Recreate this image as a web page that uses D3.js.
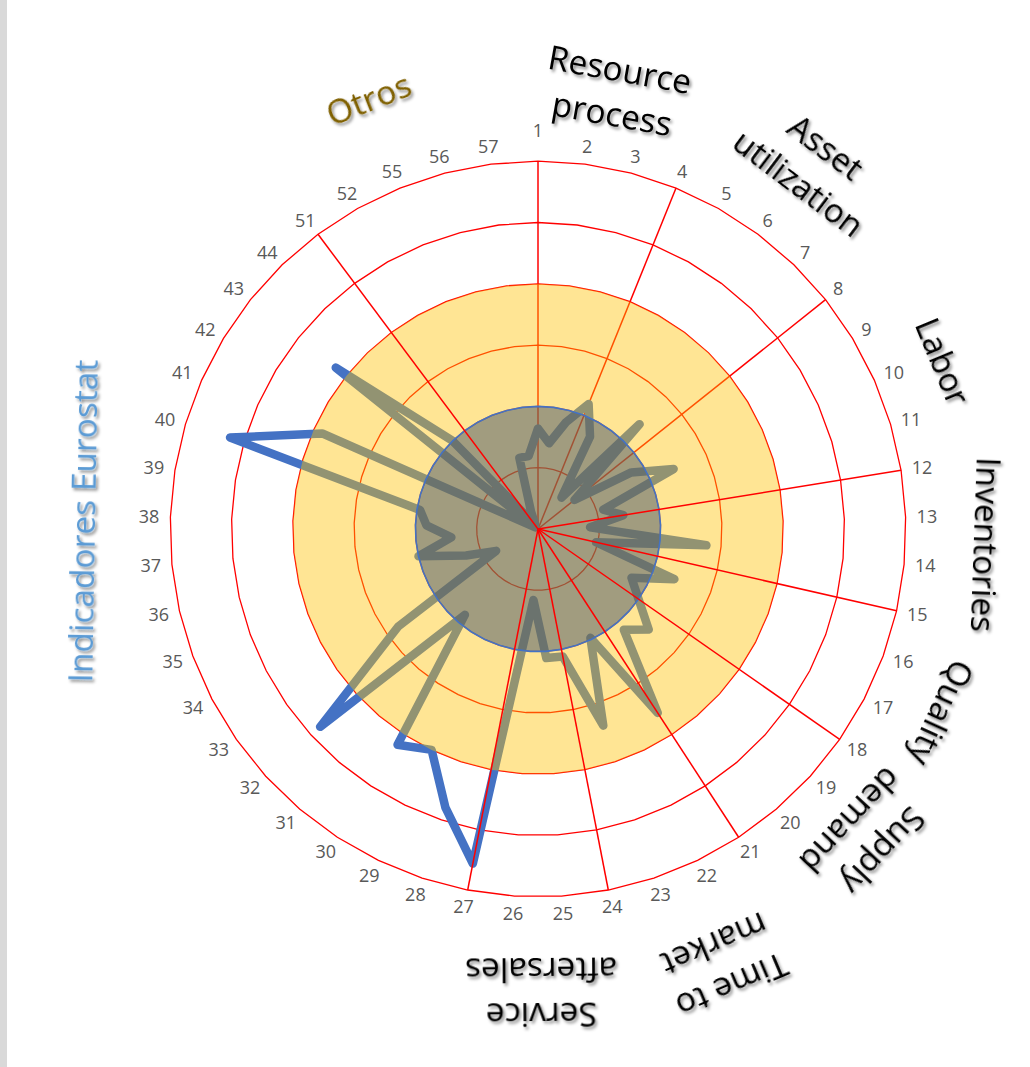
<!DOCTYPE html>
<html>
<head>
<meta charset="utf-8">
<script src="https://cdn.jsdelivr.net/npm/d3@7"></script>
<style>
  body { margin: 0; background: #fff; }
  svg { display: block; }
</style>
</head>
<body>
<svg id="chart" width="1030" height="1067"></svg>
<script>
// categories (axis labels) around the radar
const categories = ["1","2","3","4","5","6","7","8","9","10","11","12","13","14","15","16","17",
  "18","19","20","21","22","23","24","25","26","27","28","29","30","31","32","33","34","35",
  "36","37","38","39","40","41","42","43","44","51","52","55","56","57"];

// main series (blue line), one value per category
const scores = [1.64, 1.41, 1.8, 2.2, 1.73, 0.64, 2.38, 0.76, 1.78, 2.42, 1.11, 1.41, 0.85,
  2.76, 0.97, 2.37, 1.72, 2.0, 2.44, 2.16, 3.58, 1.97, 3.38, 2.12, 2.11, 1.16, 5.56, 4.79,
  4.0, 4.2, 1.84, 4.8, 2.78, 0.77, 1.25, 2.0, 1.42, 1.82, 1.95, 5.24, 3.85, 0.05, 4.22, 2.0,
  0.1, 0.1, 0.3, 1.2, 1.2];

// filled reference bands
const targetLevel = 4;
const baseLevel = 2;

// grid rings
const ringTicks = [1, 2, 3, 4, 5, 6];

// group separators (spokes), some drawn below the fills, the rest on top
const spokesUnder = ["1", "4", "8"];
const spokesOver = ["12", "15", "18", "21", "24", "27", "51"];

// group titles
const groupNames = [["Resource", "process"], ["Asset", "utilization"], ["Labor"], ["Inventories"],
  ["Quality"], ["Supply", "demand"], ["Time to", "market"], ["Service", "aftersales"],
  ["Indicadores Eurostat"], ["Otros"]];

// where the group titles sit (angle in degrees, distance from centre)
const groupLayout = [
  { a: 10.1, r: 444, color: "#000" },
  { a: 37, r: 455, color: "#000" },
  { a: 67.5, r: 438, color: "#000" },
  { a: 92, r: 448, color: "#000" },
  { a: 114.5, r: 443, color: "#000" },
  { a: 133, r: 449, color: "#000" },
  { a: 157, r: 473, color: "#000" },
  { a: 179.6, r: 463, color: "#000" },
  { a: 271, r: 455, color: "#5B9BD5" },
  { a: 338.5, r: 462, color: "#7F6000" }
];

const svg = d3.select("#chart");
const cx = 538, cy = 529, R = 367.8;

svg.append("rect").attr("x", 0).attr("y", 0).attr("width", 7).attr("height", 1067).attr("fill", "#d9d9d9");

const defs = svg.append("defs");
const f = defs.append("filter").attr("id", "shadow").attr("x", "-20%").attr("y", "-20%")
  .attr("width", "140%").attr("height", "140%");
f.append("feDropShadow").attr("dx", 2).attr("dy", 2.5).attr("stdDeviation", 1.8)
  .attr("flood-color", "#000").attr("flood-opacity", 0.45);

const angle = d3.scaleBand().domain(categories).range([0, 2 * Math.PI]).paddingInner(0).paddingOuter(0);
const r = d3.scaleLinear().domain([0, 6]).range([0, R]);

const g = svg.append("g").attr("transform", `translate(${cx},${cy})`);

const ringLine = level => d3.lineRadial()
  .angle(d => angle(d))
  .radius(() => r(level))
  .curve(d3.curveLinearClosed)(categories);

// grid rings
g.append("g").selectAll("path").data(ringTicks).join("path")
  .attr("d", d => ringLine(d))
  .attr("fill", "none").attr("stroke", "#ff0000").attr("stroke-width", 1.3);

const spoke = c => {
  const a = angle(c);
  return `M0,0L${r(6) * Math.sin(a)},${-r(6) * Math.cos(a)}`;
};

g.append("g").selectAll("path").data(spokesUnder).join("path")
  .attr("d", spoke).attr("stroke", "#ff0000").attr("stroke-width", 1.5);

// data line
const dataLine = d3.lineRadial()
  .angle((d, i) => angle(categories[i]))
  .radius(d => r(d))
  .curve(d3.curveLinearClosed);

g.append("path").attr("d", dataLine(scores))
  .attr("fill", "none").attr("stroke", "#4472C4").attr("stroke-width", 8.5)
  .attr("stroke-linejoin", "round").attr("stroke-linecap", "round");

// filled bands over the line
g.append("path").attr("d", ringLine(targetLevel))
  .attr("fill", "#FFC000").attr("fill-opacity", 0.42).attr("stroke", "none");

g.append("path").attr("d", ringLine(baseLevel))
  .attr("fill", "#44546A").attr("fill-opacity", 0.5)
  .attr("stroke", "#4472C4").attr("stroke-width", 1.6);

g.append("g").selectAll("path").data(spokesOver).join("path")
  .attr("d", spoke).attr("stroke", "#ff0000").attr("stroke-width", 1.5);

// category labels
const labelGap = 11, labelH = 13;
g.append("g").selectAll("text").data(categories).join("text")
  .text(d => d)
  .attr("font-family", "'Open Sans', sans-serif")
  .attr("font-size", 18)
  .attr("fill", "#595959")
  .attr("text-anchor", "middle")
  .attr("dy", "0.35em")
  .each(function (d, i) {
    const a = angle(d);
    const w = this.getComputedTextLength();
    const s = Math.sin(a), c = Math.cos(a);
    const lift = i === 0 ? 13 : 0;
    const x = s * (R + labelGap) + s * w / 2;
    const y = -c * (R + labelGap) - c * labelH / 2 - lift;
    d3.select(this).attr("x", x).attr("y", y);
  });

// group titles
const titles = g.append("g").attr("filter", "url(#shadow)");
groupNames.forEach((lines, k) => {
  const L = groupLayout[k];
  const a = L.a * Math.PI / 180;
  const tg = titles.append("g")
    .attr("transform", `translate(${L.r * Math.sin(a)},${-L.r * Math.cos(a)}) rotate(${L.a})`);
  const lh = 45;
  lines.forEach((t, j) => {
    tg.append("text")
      .text(t)
      .attr("x", 0)
      .attr("y", (j - (lines.length - 1) / 2) * lh)
      .attr("dy", "0.35em")
      .attr("text-anchor", "middle")
      .attr("font-family", "'Open Sans', sans-serif")
      .attr("font-size", 33.5)
      .attr("fill", L.color);
  });
});
</script>
</body>
</html>
